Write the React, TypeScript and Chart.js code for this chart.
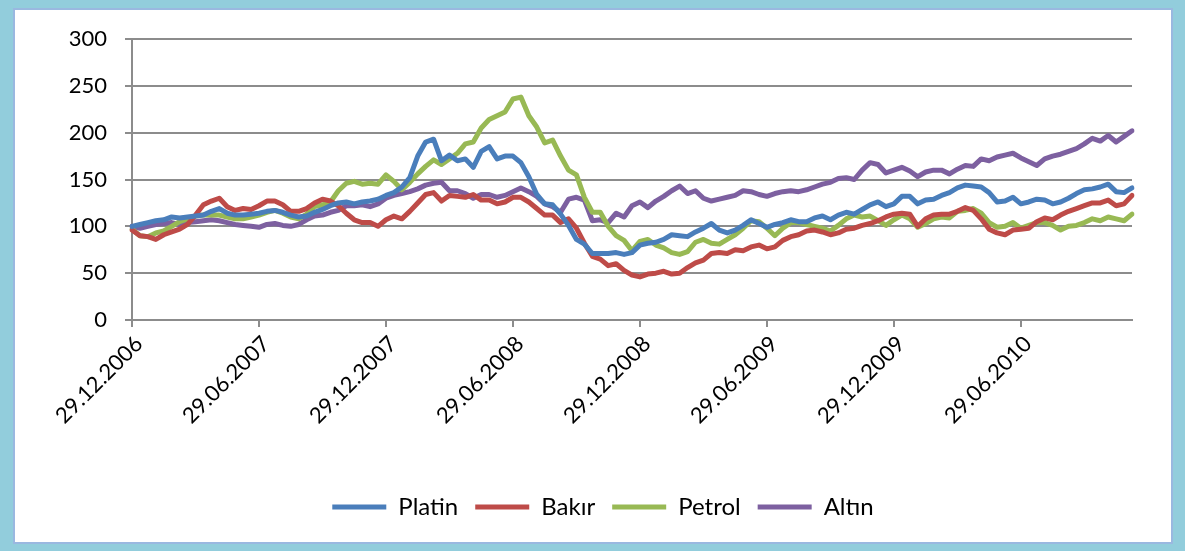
import { useEffect, useRef } from 'react';
import { Chart, registerables } from 'chart.js';

Chart.register(...registerables);

const tickLabels = ['29.12.2006', '29.06.2007', '29.12.2007', '29.06.2008', '29.12.2008', '29.06.2009', '29.12.2009', '29.06.2010'];
const TICK_EVERY = 16;

const platin = [
  100, 102, 104, 106, 107, 110, 109, 110, 111, 112,
  116, 119, 114, 112, 112, 113, 114, 116, 117, 115,
  112, 110, 111, 115, 118, 122, 125, 126, 124, 126,
  127, 129, 133, 136, 142, 152, 175, 190, 193, 170,
  176, 170, 172, 163, 180, 185, 172, 175, 175, 168,
  153, 134, 124, 123, 113, 101, 86, 81, 71, 71,
  71, 72, 70, 72, 80, 82, 83, 86, 91, 90,
  89, 94, 98, 103, 96, 93, 96, 101, 107, 103,
  99, 102, 104, 107, 105, 105, 109, 111, 107, 112,
  115, 113, 118, 123, 126, 121, 124, 132, 132, 124,
  128, 129, 133, 136, 141, 144, 143, 142, 136, 126,
  127, 131, 124, 126, 129, 128, 124, 126, 130, 135,
  139, 140, 142, 145, 137, 136, 141,
];

const bakir = [
  96, 90, 89, 86, 91, 94, 97, 102, 112, 123,
  127, 130, 121, 117, 119, 118, 122, 127, 127, 123,
  116, 116, 119, 125, 129, 127, 122, 114, 107, 104,
  104, 100, 107, 111, 108, 116, 125, 134, 136, 127,
  133, 132, 131, 134, 128, 128, 124, 126, 131, 131,
  126, 119, 112, 112, 104, 108, 98, 82, 68, 65,
  58, 60, 53, 48, 46, 49, 50, 52, 49, 50,
  56, 61, 64, 71, 72, 71, 75, 74, 78, 80,
  76, 78, 85, 89, 91, 95, 96, 94, 91, 93,
  97, 98, 101, 103, 106, 110, 113, 114, 113, 100,
  108, 112, 113, 113, 116, 120, 117, 108, 97, 93,
  91, 96, 97, 98, 105, 109, 107, 112, 116, 119,
  122, 125, 125, 128, 122, 124, 133,
];

const petrol = [
  97, 90, 89, 93, 95, 100, 105, 108, 111, 112,
  112, 112, 110, 108, 108, 110, 112, 115, 117, 114,
  110, 108, 113, 121, 123, 126, 138, 146, 148, 145,
  146, 145, 155, 148, 139, 147, 156, 164, 171, 166,
  172, 178, 188, 190, 205, 214, 218, 222, 236, 238,
  218, 206, 189, 192, 175, 160, 155, 131, 115, 115,
  100, 90, 85, 74, 84, 86, 80, 77, 72, 70,
  73, 83, 86, 82, 81, 86, 91, 98, 106, 105,
  98, 90, 98, 104, 104, 102, 100, 98, 95, 101,
  108, 112, 110, 111, 106, 101, 107, 112, 108, 99,
  103, 108, 110, 109, 116, 117, 119, 114, 104, 99,
  100, 104, 98, 101, 104, 104, 101, 96, 100, 101,
  104, 108, 106, 110, 108, 106, 113,
];

const altin = [
  100, 98, 100, 102, 103, 104, 102, 104, 105, 106,
  107, 106, 104, 102, 101, 100, 99, 102, 103, 101,
  100, 102, 107, 111, 112, 115, 117, 122, 122, 123,
  121, 124, 130, 133, 135, 137, 140, 144, 146, 147,
  138, 138, 135, 130, 134, 134, 131, 133, 137, 141,
  137, 132, 124, 121, 115, 129, 131, 128, 106, 107,
  104, 114, 110, 122, 126, 120, 127, 132, 138, 143,
  135, 138, 130, 127, 129, 131, 133, 138, 137, 134,
  132, 135, 137, 138, 137, 139, 142, 145, 147, 151,
  152, 150, 160, 168, 166, 157, 160, 163, 159, 153,
  158, 160, 160, 156, 161, 165, 164, 172, 170, 174,
  176, 178, 173, 169, 165, 172, 175, 177, 180, 183,
  188, 194, 191, 197, 190, 196, 202,
];

const seriesNames = ['Platin', 'Bakır', 'Petrol', 'Altın'];
const seriesValues = [platin, bakir, petrol, altin];
const seriesColors = ['#4A7EBB', '#BE4B48', '#98B954', '#7D60A0'];

const Y_MIN = 0;
const Y_MAX = 300;
const Y_STEP = 50;

const categories = platin.map((_, i) =>
  i % TICK_EVERY === 0 && tickLabels[i / TICK_EVERY] ? tickLabels[i / TICK_EVERY] : ''
);

const GRID = '#8c8c8c';
const FONT = 'Lato, "Open Sans", "DejaVu Sans", sans-serif';
const LEGEND_SHIFT = 37;

const legendShift = {
  id: 'legendShift',
  afterLayout(chart: any) {
    const l = chart.legend;
    if (l) {
      l.left += LEGEND_SHIFT;
      l.right += LEGEND_SHIFT;
    }
  },
};

export default function App() {
  const ref = useRef<HTMLCanvasElement | null>(null);

  useEffect(() => {
    document.body.style.margin = '0';
    if (!ref.current) return;
    const chart = new Chart(ref.current, {
      type: 'line',
      data: {
        labels: categories,
        datasets: seriesNames.map((name, k) => ({
          label: name,
          data: seriesValues[k],
          borderColor: seriesColors[k],
          backgroundColor: seriesColors[k],
          borderWidth: 5,
          pointRadius: 0,
          pointStyle: 'line',
          tension: 0,
          borderJoinStyle: 'round',
          borderCapStyle: 'round',
          fill: false,
        })),
      },
      plugins: [legendShift],
      options: {
        animation: false,
        responsive: false,
        maintainAspectRatio: false,
        layout: { padding: { left: 0, right: 53, top: 39, bottom: 22 } },
        plugins: {
          tooltip: { enabled: false },
          legend: {
            position: 'bottom',
            labels: {
              usePointStyle: true,
              pointStyle: 'line',
              pointStyleWidth: 54,
              color: '#000',
              padding: 17,
              font: { family: FONT, size: 24 },
            },
          },
        },
        scales: {
          x: {
            type: 'category',
            offset: false,
            grid: {
              drawOnChartArea: false,
              drawTicks: true,
              tickLength: 7,
              lineWidth: 2,
              color: (ctx: any) => (ctx.index % TICK_EVERY === 0 ? GRID : 'rgba(0,0,0,0)'),
            },
            border: { display: true, color: GRID, width: 2 },
            ticks: {
              autoSkip: false,
              maxRotation: 45,
              minRotation: 45,
              padding: 4,
              labelOffset: 7,
              color: '#000',
              font: { family: FONT, size: 22 },
              callback: (_v: any, i: number) => categories[i],
            },
            afterFit: (s: any) => {
              s.height = 158;
            },
          },
          y: {
            min: Y_MIN,
            max: Y_MAX,
            ticks: {
              stepSize: Y_STEP,
              padding: 18,
              color: '#000',
              font: { family: FONT, size: 22 },
            },
            grid: { color: GRID, lineWidth: 2, tickLength: 7 },
            border: { display: true, color: GRID, width: 2 },
            afterFit: (s: any) => {
              s.width = 132;
            },
          },
        },
      },
    });
    return () => chart.destroy();
  }, []);

  return (
    <div
      style={{
        position: 'fixed',
        left: 0,
        top: 0,
        width: 1185,
        height: 551,
        background: '#92CDDC',
        overflow: 'hidden',
      }}
    >
      <div
        style={{
          position: 'absolute',
          left: 13,
          top: 8,
          right: 12,
          bottom: 7,
          background: '#fff',
          border: '2px solid #9AB8E0',
          boxSizing: 'border-box',
        }}
      />
      <canvas ref={ref} width={1185} height={551} style={{ position: 'absolute', left: 0, top: 0 }} />
    </div>
  );
}
